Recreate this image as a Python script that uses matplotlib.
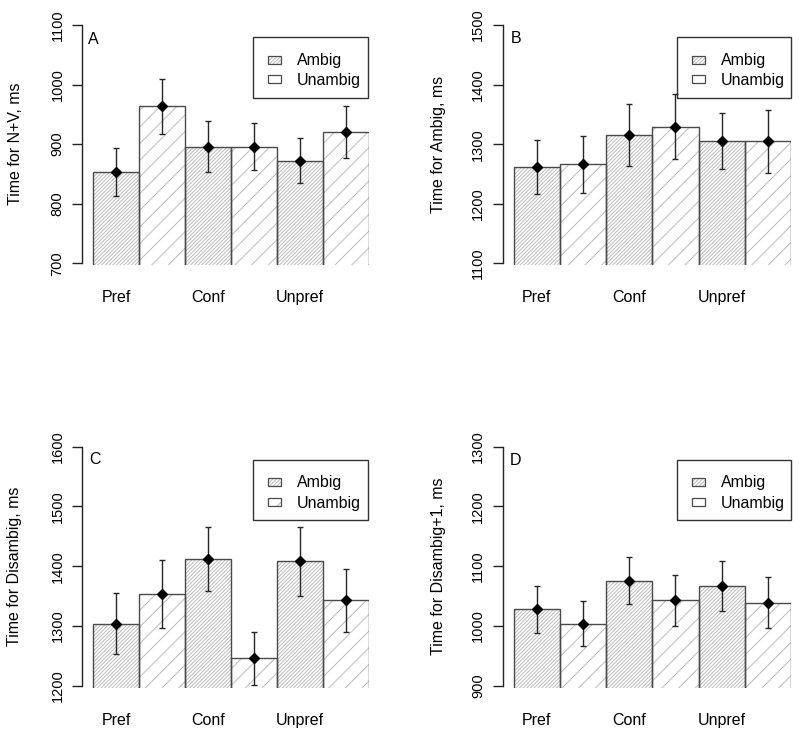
import matplotlib
matplotlib.use('Agg')
import matplotlib.pyplot as plt
from matplotlib.patches import Rectangle
from matplotlib.transforms import blended_transform_factory

plt.rcParams['font.family'] = ['Liberation Sans', 'DejaVu Sans']
plt.rcParams['hatch.linewidth'] = 0.7

W, H = 800, 738

# ---------------- data ----------------
categories = ['Pref', 'Conf', 'Unpref']
series_names = ['Ambig', 'Unambig']

nv_ambig = [853, 896, 872.5]
nv_unambig = [963.5, 896, 920.5]
nv_ambig_err = [40.5, 43, 38.5]
nv_unambig_err = [46, 40, 43]

amb_ambig = [1262, 1315, 1304.5]
amb_unambig = [1266, 1329.5, 1304.5]
amb_ambig_err = [45.5, 52, 47]
amb_unambig_err = [47.5, 54, 53.5]

dis_ambig = [1304, 1412, 1408]
dis_unambig = [1353, 1246, 1343]
dis_ambig_err = [51.5, 53.5, 58]
dis_unambig_err = [56.5, 44, 52.5]

dis1_ambig = [1028, 1076, 1066.5]
dis1_unambig = [1004, 1043, 1039]
dis1_ambig_err = [39.5, 39.5, 42]
dis1_unambig_err = [37.5, 42.5, 43]

yticks_A = [700, 800, 900, 1000, 1100]
yticks_B = [1100, 1200, 1300, 1400, 1500]
yticks_C = [1200, 1300, 1400, 1500, 1600]
yticks_D = [900, 1000, 1100, 1200, 1300]

letters = ['A', 'B', 'C', 'D']
ylabels = ['Time for N+V, ms', 'Time for Ambig, ms',
           'Time for Disambig, ms', 'Time for Disambig+1, ms']

# ---------------- layout (pixels, top-left origin) ----------------
panels = [
    dict(ambig=nv_ambig, unambig=nv_unambig, ea=nv_ambig_err, eu=nv_unambig_err,
         ticks=yticks_A, L=82, R=369, T=15, B=265, lo_px=263.3, hi_px=25.0,
         leg=(253, 37, 368, 98), ylab_x=16, letter_xy=(93, 39), cat_y=297.5,
         leg_hatch_u=False),
    dict(ambig=amb_ambig, unambig=amb_unambig, ea=amb_ambig_err, eu=amb_unambig_err,
         ticks=yticks_B, L=502.5, R=791, T=15, B=265, lo_px=263.3, hi_px=25.0,
         leg=(677, 37, 790.5, 98), ylab_x=439, letter_xy=(516, 38.7), cat_y=297.5,
         leg_hatch_u=False),
    dict(ambig=dis_ambig, unambig=dis_unambig, ea=dis_ambig_err, eu=dis_unambig_err,
         ticks=yticks_C, L=82, R=369, T=437, B=687.5, lo_px=685.8, hi_px=446.5,
         leg=(253, 459.5, 368, 520), ylab_x=15, letter_xy=(94.5, 459.5), cat_y=720.5,
         leg_hatch_u=True),
    dict(ambig=dis1_ambig, unambig=dis1_unambig, ea=dis1_ambig_err, eu=dis1_unambig_err,
         ticks=yticks_D, L=502.5, R=791, T=437, B=687.5, lo_px=685.8, hi_px=446.5,
         leg=(677, 459.5, 790.5, 520), ylab_x=438, letter_xy=(515.5, 460.5), cat_y=720.5,
         leg_hatch_u=False),
]

HATCH_GRAY = '#bcbcbc'
EDGE = '#4a4a4a'
AX_COL = '#222222'
H_AMBIG = '/////////'
H_UNAMBIG = '//'


def fx(px):
    return px / W


def fy(py):
    return 1 - py / H


fig = plt.figure(figsize=(W / 100, H / 100), dpi=100)

for i, p in enumerate(panels):
    ax = fig.add_axes([fx(p['L']), fy(p['B']), (p['R'] - p['L']) / W, (p['B'] - p['T']) / H])
    ticks = p['ticks']
    lo, hi = ticks[0], ticks[-1]
    scale = (p['lo_px'] - p['hi_px']) / (hi - lo)
    ax.set_ylim(lo - (p['B'] - p['lo_px']) / scale, hi + (p['hi_px'] - p['T']) / scale)
    ax.set_xlim(-0.24, 6)

    xa = [2 * k + 0.5 for k in range(len(categories))]
    xu = [2 * k + 1.5 for k in range(len(categories))]

    # hatched fills
    ax.bar(xa, p['ambig'], width=1, color='white', edgecolor=HATCH_GRAY,
           linewidth=0, hatch=H_AMBIG, zorder=1)
    ax.bar(xu, p['unambig'], width=1, color='white', edgecolor=HATCH_GRAY,
           linewidth=0, hatch=H_UNAMBIG, zorder=1)
    # outlines
    ax.bar(xa, p['ambig'], width=1, facecolor='none', edgecolor=EDGE, linewidth=1, zorder=2)
    ax.bar(xu, p['unambig'], width=1, facecolor='none', edgecolor=EDGE, linewidth=1, zorder=2)

    # error bars and points
    for xs, vals, errs in ((xa, p['ambig'], p['ea']), (xu, p['unambig'], p['eu'])):
        ax.errorbar(xs, vals, yerr=errs, fmt='D', color='black', ms=5,
                    ecolor='#262626', elinewidth=1, capsize=2.2, capthick=1, zorder=6)

    # axes styling
    for s in ('top', 'right', 'bottom'):
        ax.spines[s].set_visible(False)
    ax.spines['left'].set_bounds(lo, hi)
    ax.spines['left'].set_color(AX_COL)
    ax.spines['left'].set_linewidth(1)
    ax.set_yticks(ticks)
    ax.set_yticklabels([])
    ax.tick_params(axis='y', length=7.2, width=1, color=AX_COL)
    ax.set_xticks([])
    ax.patch.set_visible(False)

    # y tick labels (parallel to the axis, as in R)
    try_y = blended_transform_factory(fig.transFigure, ax.transData)
    for tv in ticks:
        ax.text(fx(p['L'] - 24.5), tv, str(tv), transform=try_y, rotation=90,
                ha='center', va='center', fontsize=10.5, clip_on=False)

    # category labels
    tr = blended_transform_factory(ax.transData, fig.transFigure)
    for k, c in enumerate(categories):
        ax.text(xa[k], fy(p['cat_y']), c, transform=tr, ha='center', va='center',
                fontsize=11.5, clip_on=False)

    # y label
    fig.text(fx(p['ylab_x']), fy((p['lo_px'] + p['hi_px']) / 2), ylabels[i],
             rotation=90, ha='center', va='center', fontsize=11.5)

    # panel letter
    fig.text(fx(p['letter_xy'][0]), fy(p['letter_xy'][1]), letters[i],
             ha='center', va='center', fontsize=11.5)

    # legend (drawn manually)
    l, t, r, b = p['leg']
    box = Rectangle((fx(l), fy(b)), (r - l) / W, (b - t) / H, transform=fig.transFigure,
                    facecolor='white', edgecolor='#333333', linewidth=1, zorder=4,
                    clip_on=False)
    ax.add_patch(box)
    hatches = [H_AMBIG, H_UNAMBIG if p['leg_hatch_u'] else None]
    patch_tops = [t + 18.5, t + 38]
    text_ys = [t + 23.5, t + 44]
    for j, name in enumerate(series_names):
        pt = patch_tops[j]
        if hatches[j]:
            ax.add_patch(Rectangle((fx(l + 15), fy(pt + 8)), 12.5 / W, 8 / H,
                                   transform=fig.transFigure, facecolor='white',
                                   edgecolor=HATCH_GRAY, linewidth=0, hatch=hatches[j],
                                   zorder=4.5, clip_on=False))
        ax.add_patch(Rectangle((fx(l + 15), fy(pt + 8)), 12.5 / W, 8 / H,
                               transform=fig.transFigure, facecolor='none',
                               edgecolor=EDGE, linewidth=0.9, zorder=4.6, clip_on=False))
        ax.text(fx(l + 43.5), fy(text_ys[j]), name, transform=fig.transFigure,
                ha='left', va='center', fontsize=11.5, zorder=4.7, clip_on=False)

fig.savefig('out.png', dpi=100, facecolor='white')
